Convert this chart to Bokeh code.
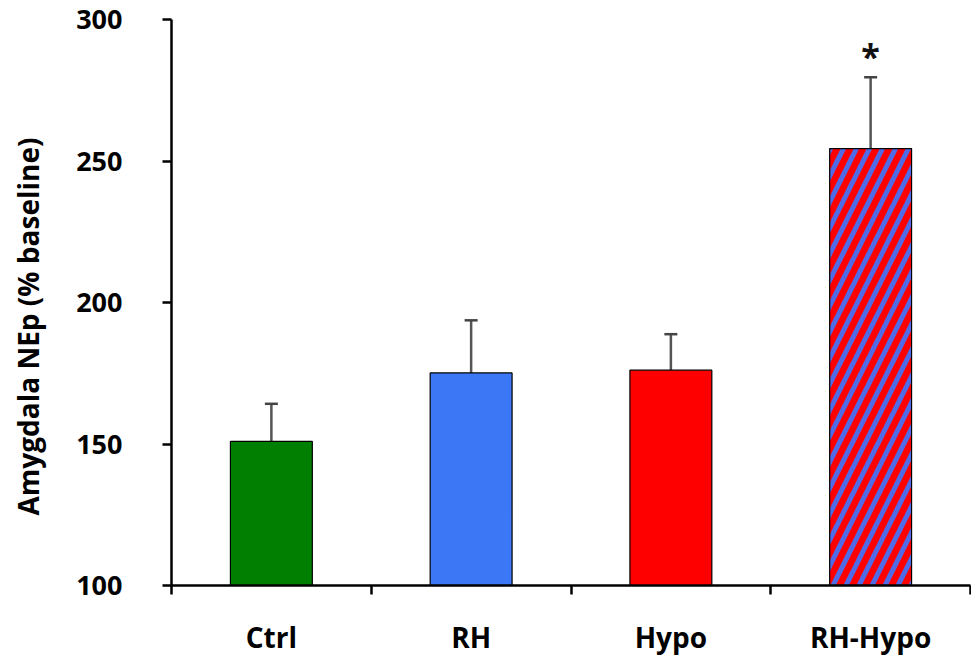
from bokeh.plotting import figure
from bokeh.models import Range1d, FixedTicker, Whisker, TeeHead, ColumnDataSource, LinearAxis, Title
from bokeh.embed import file_html
from bokeh.resources import INLINE
from bokeh.core.properties import value

categories = ["Ctrl", "RH", "Hypo", "RH-Hypo"]
means = [150.9, 175.1, 176.1, 254.4]
errors = [13.3, 18.6, 12.7, 25.2]
colors = ["#007F00", "#3C78F5", "#FF0000", "#FF0000"]
hatches = [" ", " ", " ", "/"]
y_ticks = [100, 150, 200, 250, 300]
significance = ["", "", "", "*"]
y_title = "Amygdala NEp (% baseline)"

FONT = "Open Sans"

xs = [i + 0.5 for i in range(len(categories))]
src = ColumnDataSource(dict(
    x=xs, top=means, upper=[m + e for m, e in zip(means, errors)],
    color=colors, hatch=hatches, sig=significance,
    sig_y=[m + e + 7.5 for m, e in zip(means, errors)],
))

p = figure(width=971, height=660, output_backend="svg", toolbar_location=None,
           x_range=Range1d(0, 4), y_range=Range1d(100, 300),
           min_border_left=170, min_border_right=1, min_border_top=19, min_border_bottom=75,
           x_axis_type=None, y_axis_type=None)
p.outline_line_color = None
p.grid.grid_line_color = None
p.background_fill_color = "white"

p.vbar(x="x", top="top", bottom=100, width=0.41, source=src,
       fill_color="color", line_color="black", line_width=1.2,
       hatch_pattern="hatch", hatch_color="#4F6BE8", hatch_weight=5, hatch_scale=26)

w = Whisker(base="x", lower="top", upper="upper", source=src, line_color="#555555", line_width=2.5,
            upper_head=TeeHead(size=13, line_color="#444444", line_width=2.5), lower_head=None)
p.add_layout(w)

p.text(x="x", y="sig_y", text="sig", source=src, text_align="center", text_baseline="middle",
       text_font=value(FONT), text_font_style="bold", text_font_size="34px", text_color="#111111")

# y axis
ya = LinearAxis(ticker=FixedTicker(ticks=y_ticks, minor_ticks=[]))
ya.axis_line_color = "black"
ya.axis_line_width = 2.5
ya.major_tick_line_width = 2.5
ya.major_tick_out = 9
ya.major_tick_in = 0
ya.minor_tick_out = 0
ya.major_label_text_font = FONT
ya.major_label_text_font_style = "bold"
ya.major_label_text_font_size = "27px"
ya.major_label_text_color = "black"
ya.major_label_standoff = 40
ya.axis_label = " "
ya.axis_label_text_font_size = "2px"
ya.axis_label_standoff = 15
p.add_layout(ya, "left")

t = Title(text=y_title, align="left", offset=70, standoff=12,
          text_font=FONT, text_font_style="bold", text_font_size="28px", text_color="black")
p.add_layout(t, "left")

# x axis
xa = LinearAxis(ticker=FixedTicker(ticks=xs, minor_ticks=list(range(len(categories) + 1))))
xa.major_label_overrides = {x: c for x, c in zip(xs, categories)}
xa.axis_line_color = "black"
xa.axis_line_width = 2.5
xa.major_tick_out = 0
xa.major_tick_in = 0
xa.minor_tick_out = 9
xa.minor_tick_in = 0
xa.minor_tick_line_width = 2.5
xa.minor_tick_line_color = "black"
xa.major_label_text_font = FONT
xa.major_label_text_font_style = "bold"
xa.major_label_text_font_size = "28px"
xa.major_label_text_color = "black"
xa.major_label_standoff = 23
p.add_layout(xa, "below")

open("out.html", "w").write(file_html(p, INLINE))
